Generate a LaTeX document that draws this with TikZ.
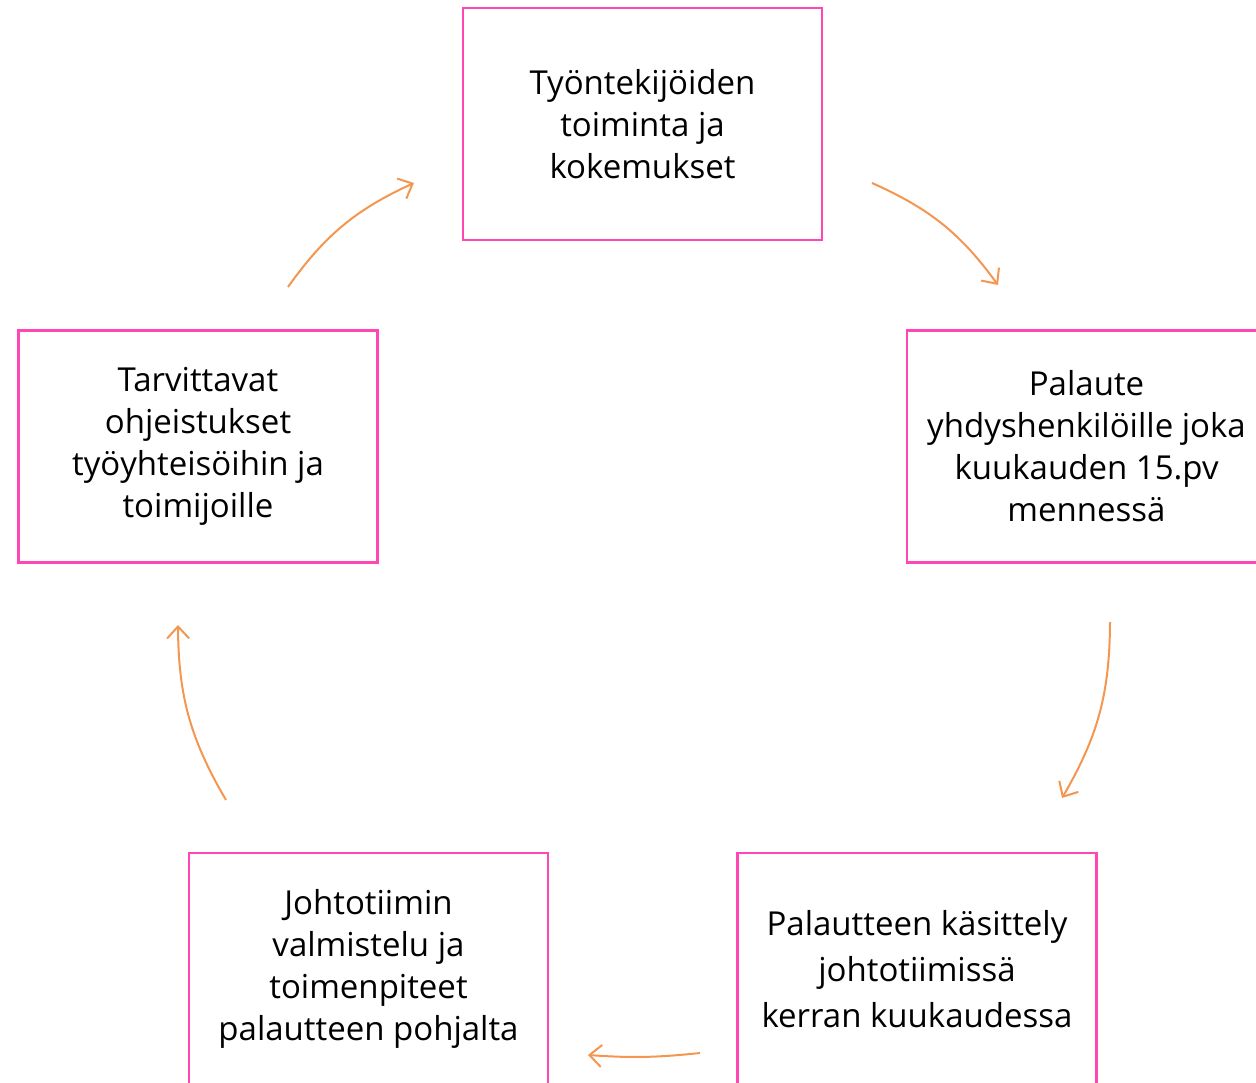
\documentclass[tikz,border=0pt]{standalone}
\usepackage{fontspec}
\setmainfont{Open Sans}
\usepackage{tikz}
\usetikzlibrary{arrows.meta,positioning}
\definecolor{boxpink}{RGB}{255,70,180}
\definecolor{arroworange}{RGB}{244,150,80}

\begin{document}
\begin{tikzpicture}[
    x=1pt, y=-1pt,
    stage/.style={rectangle, draw=boxpink, line width=2.2pt, minimum width=359pt,
        minimum height=232pt, align=center, font=\fontsize{33}{42}\selectfont, text=black},
    flow/.style={draw=arroworange, line width=2pt, -{Straight Barb[length=12pt,width=22pt]}, bend left=15}
]
\useasboundingbox (0,0) rectangle (1256,1082);
\clip (0,0) rectangle (1256,1082);
\node[stage] (tyo) at (642.5,124) {Työntekijöiden\\toiminta ja\\kokemukset};
\node[stage] (palaute) at (1086.5,446.5) {Palaute\\yhdyshenkilöille joka\\kuukauden 15.pv\\mennessä};
\node[stage] (kasittely) at (917,969) {Palautteen käsittely\\[4pt]johtotiimissä\\[4pt]kerran kuukaudessa};
\node[stage] (valmistelu) at (368.5,969) {Johtotiimin\\valmistelu ja\\toimenpiteet\\palautteen pohjalta};
\node[stage] (ohjeet) at (198,446.5) {Tarvittavat\\ohjeistukset\\työyhteisöihin ja\\toimijoille};
% arrow end points between the boxes
\coordinate (a1) at (872,183);  \coordinate (b1) at (998,285);
\coordinate (a2) at (1110,622); \coordinate (b2) at (1062,798);
\coordinate (a3) at (700,1053); \coordinate (b3) at (588,1055);
\coordinate (a4) at (226,800);  \coordinate (b4) at (178,625);
\coordinate (a5) at (288,287);  \coordinate (b5) at (414,183);
\draw[flow] (a1) to (b1);
\draw[flow] (a2) to (b2);
\draw[flow, bend left=5] (a3) to (b3);
\draw[flow] (a4) to (b4);
\draw[flow] (a5) to (b5);
\end{tikzpicture}
\end{document}
